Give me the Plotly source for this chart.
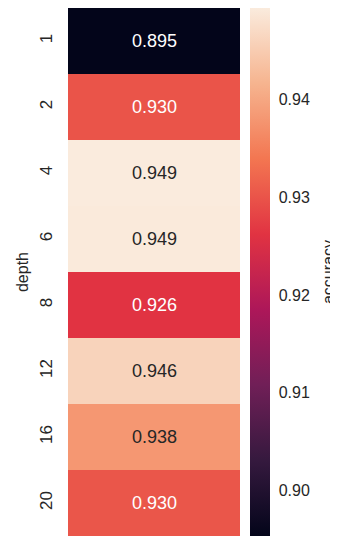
import plotly.graph_objects as go

depths = ["1", "2", "4", "6", "8", "12", "16", "20"]
accuracy = [0.8953, 0.9300, 0.9494, 0.9492, 0.9262, 0.9460, 0.9380, 0.9302]
cbar_ticks = [0.90, 0.91, 0.92, 0.93, 0.94]
cbar_ticktext = ["0.90", "0.91", "0.92", "0.93", "0.94"]

rocket = [
    (0.0, "#03051a"),
    (1 / 7, "#35193e"),
    (2 / 7, "#701f57"),
    (3 / 7, "#ad1759"),
    (4 / 7, "#e13342"),
    (5 / 7, "#f37651"),
    (6 / 7, "#f6b48f"),
    (1.0, "#faebdd"),
]


def hex2rgb(h):
    h = h.lstrip("#")
    return [int(h[i:i + 2], 16) for i in (0, 2, 4)]


def interp(t):
    for (p0, c0), (p1, c1) in zip(rocket[:-1], rocket[1:]):
        if p0 <= t <= p1:
            f = (t - p0) / (p1 - p0) if p1 > p0 else 0
            a, b = hex2rgb(c0), hex2rgb(c1)
            return [a[i] + f * (b[i] - a[i]) for i in range(3)]
    return hex2rgb(rocket[-1][1])


def lum(rgb):
    out = []
    for c in rgb:
        c = c / 255
        out.append(c / 12.92 if c <= 0.03928 else ((c + 0.055) / 1.055) ** 2.4)
    return 0.2126 * out[0] + 0.7152 * out[1] + 0.0722 * out[2]


zmin, zmax = min(accuracy), max(accuracy)
FONT = "Liberation Sans, Arial, sans-serif"

fig = go.Figure(
    go.Heatmap(
        z=[[v] for v in accuracy],
        x=["acc"],
        y=depths,
        zmin=zmin,
        zmax=zmax,
        colorscale=[[p, c] for p, c in rocket],
        showscale=True,
        hoverinfo="skip",
        colorbar=dict(
            x=1.058,
            xanchor="left",
            xpad=0,
            y=0.5,
            yanchor="middle",
            ypad=0,
            len=1,
            lenmode="fraction",
            thickness=20,
            outlinewidth=0,
            tickvals=cbar_ticks,
            ticktext=cbar_ticktext,
            ticks="outside",
            ticklen=6,
            tickcolor="rgba(0,0,0,0)",
            tickfont=dict(family=FONT, size=16, color="#262626"),
        ),
    )
)

# annotations on category axes: numeric positions are category indices
for i, v in enumerate(accuracy):
    t = (v - zmin) / (zmax - zmin)
    color = "#262626" if lum(interp(t)) > 0.408 else "#ffffff"
    fig.add_annotation(
        x=0, y=i, text=f"{v:.3f}", showarrow=False,
        font=dict(family=FONT, size=18, color=color),
    )

fig.add_annotation(
    xref="paper", yref="paper", x=1.512, y=0.5, text="accuracy",
    textangle=-90, showarrow=False, xanchor="center", yanchor="middle",
    font=dict(family=FONT, size=16, color="#262626"),
)

fig.update_layout(
    width=330,
    height=529,
    margin=dict(l=60, r=98, t=0, b=1, autoexpand=False),
    paper_bgcolor="white",
    plot_bgcolor="white",
    xaxis=dict(visible=False, type="category"),
    yaxis=dict(
        type="category",
        categoryorder="array",
        categoryarray=depths,
        autorange="reversed",
        automargin=False,
        tickangle=-90,
        ticks="outside",
        ticklen=8,
        tickcolor="rgba(0,0,0,0)",
        tickfont=dict(family=FONT, size=17, color="#262626"),
        showgrid=False,
        zeroline=False,
        title=dict(text="depth", font=dict(family=FONT, size=16, color="#262626"), standoff=4),
    ),
)

fig.write_html("out.html")
